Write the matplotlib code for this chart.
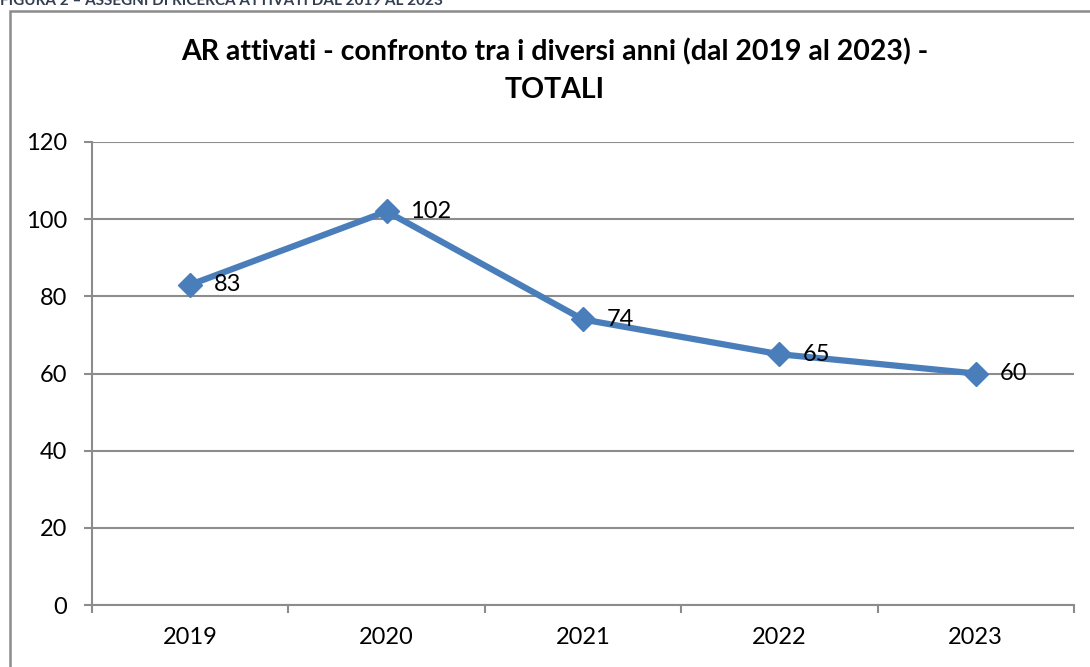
import matplotlib.pyplot as plt
from matplotlib.patches import Rectangle

years = ["2019", "2020", "2021", "2022", "2023"]
totals = [83, 102, 74, 65, 60]
yticks = [0, 20, 40, 60, 80, 100, 120]

plt.rcParams['font.family'] = ['Lato', 'DejaVu Sans']

fig = plt.figure(figsize=(10.9, 6.67), dpi=100)
W, H = 1090, 667

# outer chart frame (runs off right/bottom edges)
fig.patches.append(Rectangle((10 / W, -0.05), 1.2, 1 - 11 / H + 0.05,
                             transform=fig.transFigure, fill=False,
                             edgecolor='#8c8c8c', linewidth=1.8))

# clipped caption at the very top
fig.text(0.0, 1 - 5 / H, "FIGURA 2 \u2013 ASSEGNI DI RICERCA ATTIVATI DAL 2019 AL 2023",
         fontsize=11, fontweight='bold', color='#333f50', va='baseline', ha='left')

ax = fig.add_axes([92 / W, 1 - 605 / H, (1074 - 92) / W, (605 - 142) / H])
x = list(range(len(years)))
ax.plot(x, totals, color='#4a7ebb', linewidth=4.5, marker='D', markersize=12,
        markeredgecolor='#4a7ebb', zorder=3)

for xi, v in zip(x, totals):
    ax.annotate(str(v), (xi, v), xytext=(17, 0), textcoords='offset points',
                va='center', ha='left', fontsize=17, color='black', zorder=4)

ax.set_xlim(-0.5, len(years) - 0.5)
ax.set_ylim(0, 120)
ax.set_yticks(yticks)
ax.set_yticklabels([str(t) for t in yticks], fontsize=17)
ax.yaxis.grid(True, color='#8c8c8c', linewidth=1.5)
ax.set_axisbelow(True)

ax.set_xticks([i - 0.5 for i in range(len(years) + 1)])
ax.set_xticklabels([])
ax.set_xticks(x, minor=True)
ax.set_xticklabels(years, minor=True, fontsize=17)
ax.tick_params(axis='x', which='major', length=6, width=1.5, color='#8c8c8c', direction='out')
ax.tick_params(axis='x', which='minor', length=0, pad=16)
ax.tick_params(axis='y', length=6, width=1.5, color='#8c8c8c', pad=12)

for side in ['top', 'right']:
    ax.spines[side].set_visible(False)
for side in ['left', 'bottom']:
    ax.spines[side].set_color('#8c8c8c')
    ax.spines[side].set_linewidth(1.5)

fig.text(555 / W, 1 - 52 / H, "AR attivati - confronto tra i diversi anni (dal 2019 al 2023) -",
         ha='center', va='center', fontsize=20.5, fontweight='bold')
fig.text(555 / W, 1 - 90 / H, "TOTALI", ha='center', va='center', fontsize=20.5, fontweight='bold')

fig.savefig('out.png', dpi=100)
